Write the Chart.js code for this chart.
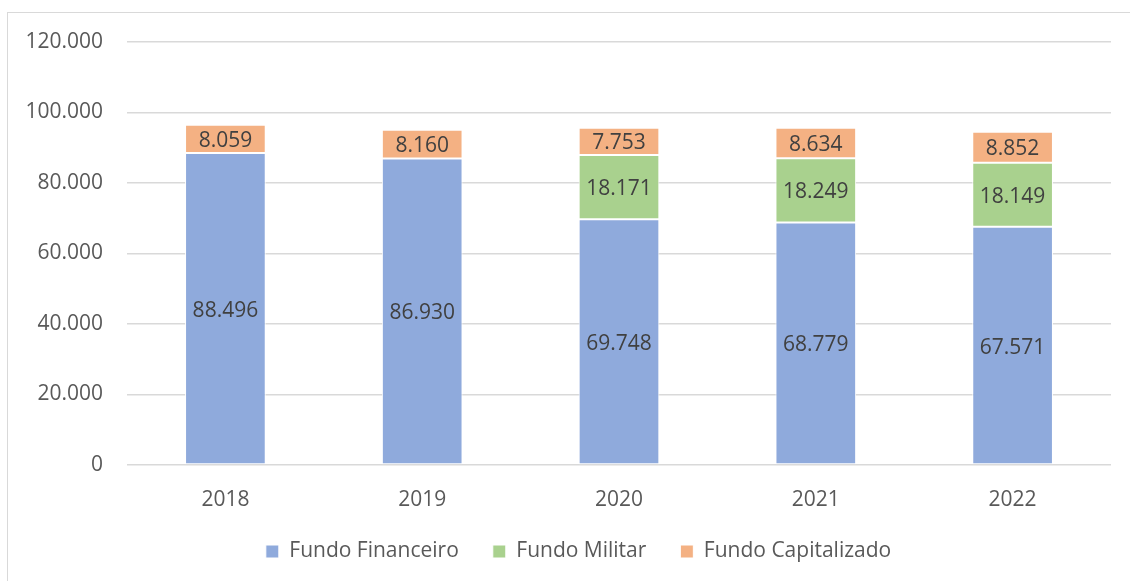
<!DOCTYPE html>
<html>
<head>
<meta charset="utf-8">
<script src="https://cdn.jsdelivr.net/npm/chart.js@4"></script>
<style>
  body { margin: 0; background: #fff; }
  #wrap { position: relative; width: 1130px; height: 581px; overflow: hidden; }
  #frame { position: absolute; left: 7px; top: 12px; width: 1140px; height: 600px; border: 1px solid #d9d9d9; }
  #chart { position: absolute; left: 0; top: 0; }
</style>
</head>
<body>
<div id="wrap">
  <div id="frame"></div>
  <canvas id="chart" width="1130" height="581"></canvas>
</div>
<script>
const years = ["2018", "2019", "2020", "2021", "2022"];
const financeiro = [88496, 86930, 69748, 68779, 67571];
const militar = [null, null, 18171, 18249, 18149];
const capitalizado = [8059, 8160, 7753, 8634, 8852];
const yTicks = [0, 20000, 40000, 60000, 80000, 100000, 120000];

const fontFamily = "'Open Sans', sans-serif";

// thousands separator with a dot
const fmt = (v) => String(v).replace(/\B(?=(\d{3})+(?!\d))/g, ".");

// write the value in the middle of each bar piece
const barLabels = {
  id: "barLabels",
  afterDatasetsDraw(chart) {
    const ctx = chart.ctx;
    ctx.save();
    ctx.font = "21px " + fontFamily;
    ctx.fillStyle = "#404040";
    ctx.textAlign = "center";
    ctx.textBaseline = "middle";
    chart.data.datasets.forEach((ds, i) => {
      const meta = chart.getDatasetMeta(i);
      meta.data.forEach((bar, j) => {
        const v = ds.data[j];
        if (v == null) return;
        ctx.fillText(fmt(v), bar.x, (bar.y + bar.base) / 2 + 2);
      });
    });
    ctx.restore();
  }
};

// move the legend up a bit and center it under the whole frame
const legendShift = {
  id: "legendShift",
  afterLayout(chart) {
    const lg = chart.legend;
    if (!lg) return;
    lg.top -= 3;
    lg.bottom -= 3;
    lg.left += 23;
    lg.right += 23;
  }
};

new Chart(document.getElementById("chart"), {
  type: "bar",
  plugins: [barLabels, legendShift],
  data: {
    labels: years,
    datasets: [
      { label: "Fundo Financeiro", data: financeiro, backgroundColor: "#8faadc" },
      { label: "Fundo Militar", data: militar, backgroundColor: "#a9d18e" },
      { label: "Fundo Capitalizado", data: capitalizado, backgroundColor: "#f4b183" }
    ].map(d => Object.assign(d, {
      borderColor: "#ffffff",
      borderWidth: 1,
      borderSkipped: false,
      barPercentage: 0.41,
      categoryPercentage: 1
    }))
  },
  options: {
    responsive: false,
    devicePixelRatio: 1,
    animation: false,
    layout: { padding: { left: 0, right: 19, top: 42, bottom: 11 } },
    scales: {
      x: {
        stacked: true,
        grid: { display: false },
        border: { display: false },
        ticks: { color: "#595959", font: { family: fontFamily, size: 21 }, padding: 14 },
        afterFit: (s) => { s.height = 45; }
      },
      y: {
        stacked: true,
        min: 0,
        max: 120000,
        afterBuildTicks: (s) => { s.ticks = yTicks.map(v => ({ value: v })); },
        grid: { color: "#d9d9d9", lineWidth: 1.5, drawTicks: false },
        border: { display: false },
        ticks: {
          color: "#595959",
          font: { family: fontFamily, size: 21 },
          padding: 24,
          callback: (v) => fmt(v)
        },
        afterFit: (s) => { s.width = 127; }
      }
    },
    plugins: {
      tooltip: { enabled: false },
      legend: {
        position: "bottom",
        maxHeight: 60,
        labels: {
          color: "#595959",
          font: { family: fontFamily, size: 21 },
          boxWidth: 13,
          boxHeight: 13,
          padding: 34
        }
      }
    }
  }
});
</script>
</body>
</html>
